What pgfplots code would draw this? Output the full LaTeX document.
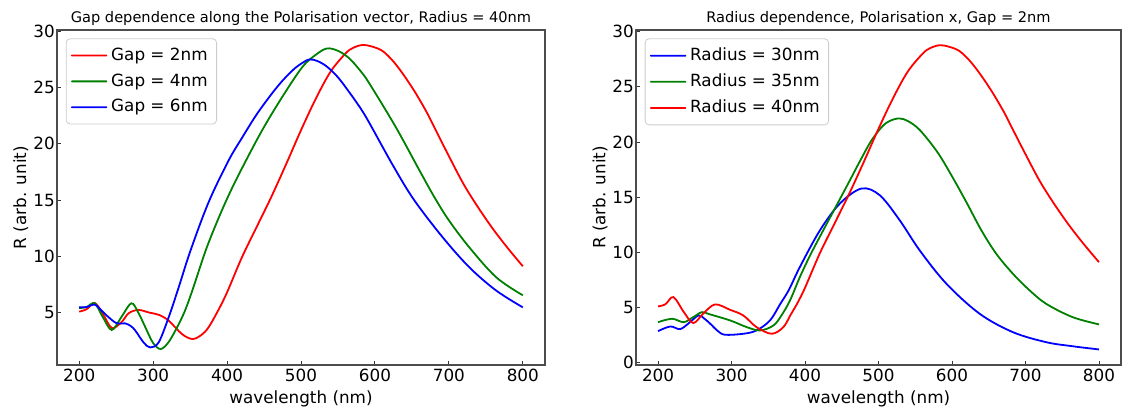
\documentclass[border=0pt]{standalone}
\usepackage{fontspec}
\setmainfont{DejaVu Sans}
\usepackage{pgfplots}
\pgfplotsset{compat=1.18}
\definecolor{mred}{rgb}{1,0,0}
\definecolor{mgreen}{rgb}{0,0.5,0}
\definecolor{mblue}{rgb}{0,0,1}
\begin{document}
\begin{tikzpicture}
\pgfplotsset{
 myax/.style={
  height=167.5pt, scale only axis,
  xmin=170, xmax=830, xtick={200,300,...,800},
  tick align=inside, xtick pos=lower, ytick pos=left,
  major tick length=2.2pt,
  every tick/.style={black!80, line width=0.45pt},
  axis line style={black!70, line width=0.55pt},
  tick label style={font=\fontsize{8.4}{10}\selectfont},
  xticklabel style={anchor=base, yshift=-8.4pt},
  yticklabel style={anchor=east, xshift=2.4pt},
  every axis x label/.style={at={(rel axis cs:0.5,0)}, anchor=base, yshift=-19pt,
    font=\fontsize{8.4}{10}\selectfont},
  every axis y label/.style={at={(rel axis cs:-0.074,0.5)}, rotate=90, anchor=center,
    font=\fontsize{8.4}{10}\selectfont},
  title style={font=\fontsize{7.3}{8.8}\selectfont, yshift=-7.5pt},
  /pgf/number format/assume math mode=true,
  xlabel={wavelength (nm)}, ylabel={R (arb. unit)},
  legend cell align=left,
  legend image code/.code={\fill[#1, draw=none, rounded corners=0.3pt] (0pt,-0.45pt) rectangle (18pt,0.45pt);},
  legend style={anchor=north west, draw=black!20, rounded corners=2pt,
    font=\fontsize{8.4}{10}\selectfont, row sep=1.2pt, inner sep=2.5pt},
  every axis plot/.append style={line width=0.9pt, smooth, tension=0.55, no marks},
 }
}
\begin{axis}[myax, name=ax1, at={(0,0)}, anchor=south west, width=244pt,
  ymin=0.35, ymax=30.1, ytick={5,10,...,30},
  title={Gap dependence along the Polarisation vector, Radius = 40nm},
  legend style={at={(0.018,0.975)}}]
\addplot[mred] coordinates {
(200,5.09) (210,5.3) (221,5.86) (232,4.9) (244,3.64) (257,4.14) (267,4.95) (280,5.24)
(295,5.0) (308,4.8) (321,4.29) (339,3.1) (353,2.66) (365,3.0) (375,3.7) (388,5.2)
(400,6.8) (420,9.9) (440,12.6) (460,15.3) (480,18.2) (500,21.2) (520,24.0) (540,26.4)
(560,28.0) (570,28.5) (583,28.77) (595,28.65) (610,28.25) (625,27.3) (640,26.0)
(655,24.5) (670,22.8) (680,21.5) (700,18.9) (720,16.4) (740,14.3) (760,12.4)
(780,10.7) (800,9.12)};
\addlegendentry{Gap = 2nm}
\addplot[mgreen] coordinates {
(200,5.4) (210,5.5) (221,5.83) (232,4.6) (244,3.46) (257,4.6) (270.5,5.83) (280,5.0)
(289.5,3.7) (300,2.3) (310,1.77) (320,2.3) (330,3.4) (342,5.0) (353,6.96) (371,10.5)
(386,13.0) (402,15.4) (420,17.8) (447.5,21.2) (474.6,24.15) (501.7,26.8) (520,27.9)
(535,28.46) (550,28.25) (565,27.6) (580,26.5) (592,25.4) (628,21.5) (658,17.9)
(680,15.3) (700,13.2) (727.6,10.8) (764,8.14) (800,6.54)};
\addlegendentry{Gap = 4nm}
\addplot[mblue] coordinates {
(200,5.47) (210,5.5) (221,5.71) (230,5.2) (240,4.58) (251,4.05) (262,4.05) (270,3.8)
(276,3.4) (287,2.36) (296,1.91) (307.5,2.36) (321,4.58) (334.6,7.25) (350.5,10.5)
(375,14.8) (402,18.5) (420,20.5) (440,22.6) (460,24.4) (475,25.6) (490,26.6) (500,27.1)
(511,27.48) (522,27.35) (535,26.85) (550,25.9) (565,24.6) (580,23.2) (592,21.9)
(625,18.0) (653,15.0) (691.5,11.7) (727.6,9.03) (764,6.96) (800,5.47)};
\addlegendentry{Gap = 6nm}
\end{axis}
\begin{axis}[myax, name=ax2, at={(289.5pt,0)}, anchor=south west, width=242.5pt,
  ymin=-0.2, ymax=30.15, ytick={0,5,...,30},
  title={Radius dependence, Polarisation x, Gap = 2nm},
  legend style={at={(0.018,0.975)}}]
\addplot[mblue] coordinates {
(200,2.87) (216.7,3.29) (230,3.05) (242,3.6) (255,4.29) (263,4.0) (271,3.54) (281,2.9)
(291,2.54) (316,2.63) (334,2.93) (352.4,3.84) (366,5.3) (378,6.6) (393,8.68) (420.3,12.0)
(447.5,14.43) (477,15.79) (501.7,15.18) (528.9,12.91) (556,10.19) (592.3,7.17)
(637.5,4.45) (682.7,2.78) (728,1.87) (764,1.5) (800,1.21)};
\addlegendentry{Radius = 30nm}
\addplot[mgreen] coordinates {
(200,3.68) (219,3.99) (234.7,3.68) (247,4.1) (259.7,4.59) (270,4.4) (298,3.84)
(320.8,3.23) (338.9,2.93) (357,3.38) (368,4.3) (379.6,5.65) (393,7.77) (406.7,9.7)
(420,11.4) (440,13.9) (460,16.4) (475,18.3) (490,20.1) (505,21.4) (515,21.9) (528,22.14)
(540,21.9) (556,21.1) (580,19.1) (600,16.9) (620,14.5) (640,12.0) (660,9.9)
(682.7,8.08) (705,6.6) (728,5.35) (764,4.14) (800,3.48)};
\addlegendentry{Radius = 35nm}
\addplot[mred] coordinates {
(200,5.11) (210,5.3) (221,5.95) (235,4.6) (248,3.6) (262,4.5) (277.8,5.29) (298,4.8)
(316,4.29) (334,3.23) (354.7,2.63) (370.5,3.23) (380,4.3) (390,5.45) (400,6.8) (420,9.9)
(440,12.6) (460,15.3) (480,18.2) (500,21.2) (520,24.0) (540,26.4) (560,28.0)
(570,28.5) (583,28.77) (595,28.65) (610,28.25) (625,27.3) (640,26.0) (655,24.5)
(670,22.8) (680,21.5) (700,18.9) (720,16.4) (740,14.3) (760,12.4) (780,10.7) (800,9.12)};
\addlegendentry{Radius = 40nm}
\end{axis}
\pgfresetboundingbox
\path[use as bounding box] (-28.5pt,-21pt) rectangle (533pt,182.5pt);
\end{tikzpicture}
\end{document}
